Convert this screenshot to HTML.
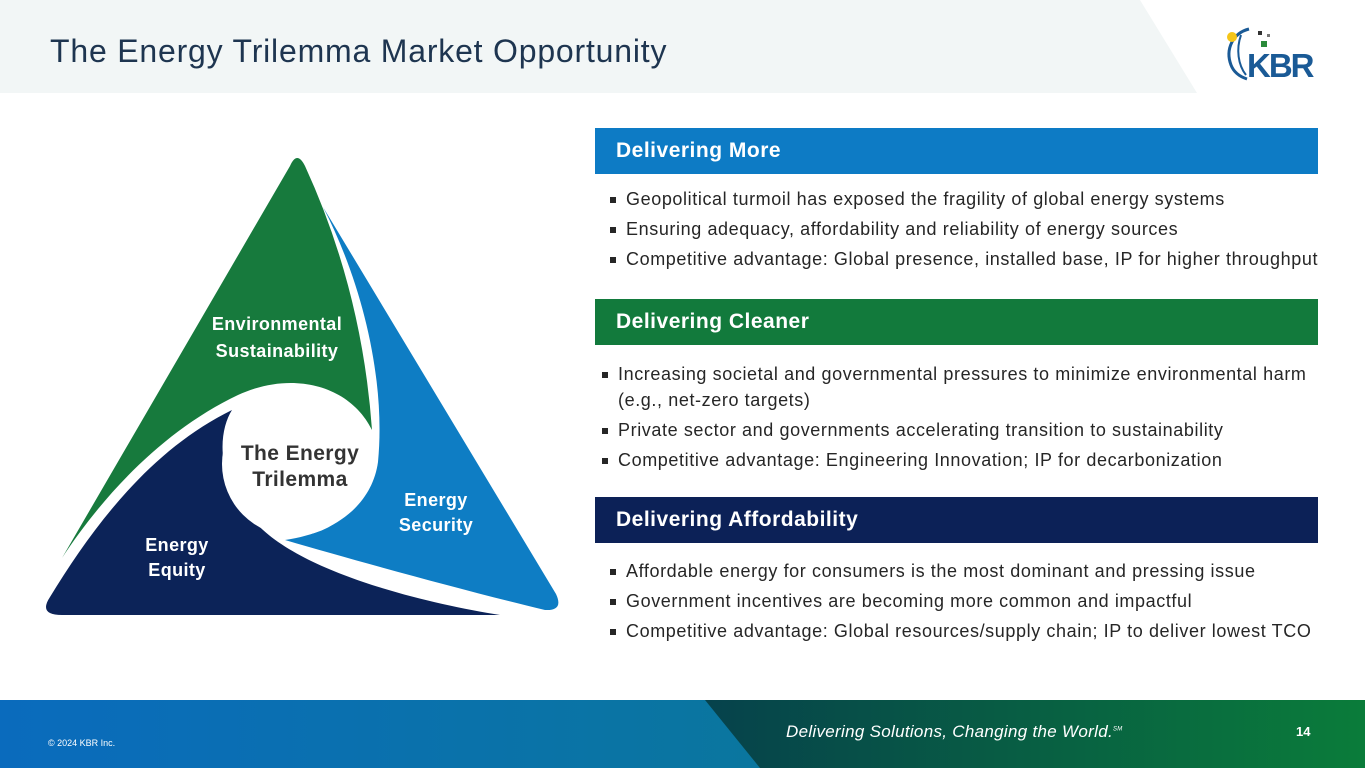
<!DOCTYPE html>
<html><head><meta charset="utf-8"><style>
*{margin:0;padding:0;box-sizing:border-box}
body{width:1365px;height:768px;overflow:hidden;background:#fff;font-family:"Liberation Sans",sans-serif;position:relative}
.abs{position:absolute}
.hdr{position:absolute;left:595px;width:723px;height:46px;color:#fff;font-weight:bold;font-size:21px;letter-spacing:0.5px;line-height:46px;padding-left:21px}
.bl{position:absolute;font-size:18px;letter-spacing:0.6px;color:#262626;white-space:nowrap}
.bl:before{content:"";position:absolute;left:-16px;top:8px;width:6px;height:6px;background:#262626}
.nb:before{display:none}
</style></head><body>
<svg class="abs" style="left:0;top:0" width="1365" height="768">
<defs>
<linearGradient id="f1" x1="0" x2="1"><stop offset="0" stop-color="#0a6bbd"/><stop offset="1" stop-color="#0b7f86"/></linearGradient>
<linearGradient id="f2" x1="0" x2="1"><stop offset="0" stop-color="#06424c"/><stop offset="1" stop-color="#0a7c3a"/></linearGradient>
</defs>
<polygon points="0,0 1140,0 1197,93 0,93" fill="#f2f6f6"/>
<rect x="0" y="700" width="1365" height="68" fill="url(#f1)"/>
<polygon points="705,700 1365,700 1365,768 760,768" fill="url(#f2)"/>
<path d="M290,166 Q297,150 305,166 Q362,290 372,430 C350,385 292,370 238,395 C160,432 100,500 62,558 Z" fill="#177a3d"/>
<path d="M323,207 L556,594 Q564,611 545,610 C470,592 360,562 285,540 C335,533 372,505 378,462 C386,380 362,282 323,207 Z" fill="#0e7dc4"/>
<path d="M50,597 Q38,615 62,615 L500,615 C420,602 300,572 255,522 C215,480 218,432 232,410 C150,450 92,528 50,597 Z" fill="#0c2358"/>
<circle cx="294" cy="464" r="72" fill="#fff"/>
<g font-family="Liberation Sans,sans-serif" font-weight="bold" text-anchor="middle" fill="#fff" font-size="18" letter-spacing="0.4">
<text x="277" y="330">Environmental</text><text x="277" y="357">Sustainability</text>
<text x="436" y="506">Energy</text><text x="436" y="531">Security</text>
<text x="177" y="551">Energy</text><text x="177" y="576">Equity</text>
<text x="300" y="460" fill="#333" font-size="21">The Energy</text><text x="300" y="486" fill="#333" font-size="21">Trilemma</text>
</g>
<g transform="translate(1225,25)">
<path d="M24,4 C8,8 0,24 6,40 C9,48 16,52 22,54" stroke="#1a5a96" stroke-width="3" fill="none"/>
<path d="M16,10 C11,24 13,40 21,50" stroke="#1a5a96" stroke-width="2" fill="none"/>
<circle cx="7" cy="12" r="5" fill="#f5c518"/>
<rect x="36" y="16" width="6" height="6" fill="#2a8a3a"/>
<rect x="33" y="6" width="4" height="4" fill="#333"/>
<rect x="42" y="9" width="3" height="3" fill="#777"/>
<text x="22" y="52" font-family="Liberation Sans,sans-serif" font-weight="bold" font-size="33" fill="#1a5a96" letter-spacing="-2">KBR</text>
</g>
</svg>
<div class="abs" style="left:50px;top:33px;font-size:32px;letter-spacing:0.8px;color:#1e3550">The Energy Trilemma Market Opportunity</div>
<div class="hdr" style="top:128px;background:#0d7bc5">Delivering More</div>
<div class="hdr" style="top:299px;background:#127a3c">Delivering Cleaner</div>
<div class="hdr" style="top:497px;background:#0c2157">Delivering Affordability</div>
<div class="bl" style="left:626px;top:189px">Geopolitical turmoil has exposed the fragility of global energy systems</div>
<div class="bl" style="left:626px;top:219px">Ensuring adequacy, affordability and reliability of energy sources</div>
<div class="bl" style="left:626px;top:249px">Competitive advantage: Global presence, installed base, IP for higher throughput</div>
<div class="bl" style="left:618px;top:364px">Increasing societal and governmental pressures to minimize environmental harm</div>
<div class="bl nb" style="left:618px;top:390px">(e.g., net-zero targets)</div>
<div class="bl" style="left:618px;top:420px">Private sector and governments accelerating transition to sustainability</div>
<div class="bl" style="left:618px;top:450px">Competitive advantage: Engineering Innovation; IP for decarbonization</div>
<div class="bl" style="left:626px;top:561px">Affordable energy for consumers is the most dominant and pressing issue</div>
<div class="bl" style="left:626px;top:591px">Government incentives are becoming more common and impactful</div>
<div class="bl" style="left:626px;top:621px">Competitive advantage: Global resources/supply chain; IP to deliver lowest TCO</div>
<div class="abs" style="left:48px;top:738px;font-size:9px;color:#fff">© 2024 KBR Inc.</div>
<div class="abs" style="left:786px;top:722px;font-size:17px;letter-spacing:0.3px;font-style:italic;color:#fff">Delivering Solutions, Changing the World.<sup style="font-size:6px">SM</sup></div>
<div class="abs" style="left:1296px;top:724px;font-size:13px;font-weight:bold;color:#fff">14</div>
</body></html>
